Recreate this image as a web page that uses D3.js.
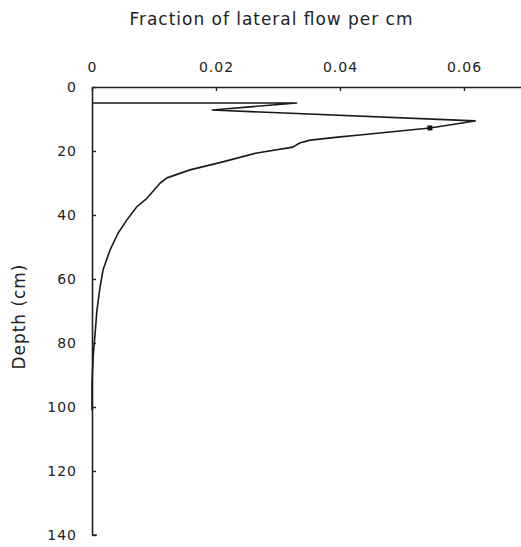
<!DOCTYPE html>
<html>
<head>
<meta charset="utf-8">
<script src="https://cdn.jsdelivr.net/npm/d3@7"></script>
<style>
  body { margin: 0; background: #fff; }
  text { font-family: "DejaVu Sans", sans-serif; fill: #222; }
</style>
</head>
<body>
<script>
// Size of the svg
var w = 521;
var h = 547;

// Lateral flow profile
var depth = [5, 5, 7.2, 10.6, 12.8, 15, 15.6, 16.6, 17.5, 18.8, 20.6, 23.4, 25.9, 28.4, 30, 34.7, 37.5, 41.6, 45.7, 51, 57, 62.5, 69.7, 77, 84, 92.5, 101];
var fraction = [0, 0.033, 0.0194, 0.0618, 0.0545, 0.0432, 0.04, 0.0352, 0.0335, 0.0324, 0.0266, 0.0211, 0.0158, 0.0121, 0.011, 0.0089, 0.0072, 0.0056, 0.0042, 0.0029, 0.0018, 0.0013, 0.0008, 0.0005, 0.0002, 0, 0];

// the small marker on the returning limb
var markDepth = [12.8];
var markFraction = [0.0545];

var xTicks = [0, 0.02, 0.04, 0.06];
var xTickLabels = ["0", "0.02", "0.04", "0.06"];
var yTicks = [0, 20, 40, 60, 80, 100, 120, 140];

var svg = d3.select("body").append("svg").attr("width", w).attr("height", h);

var x = d3.scaleLinear().domain([0, 0.0692]).range([92, 521]);
var y = d3.scaleLinear().domain([0, 140]).range([87, 535]);

// top axis
var xAxis = d3.axisTop(x)
  .tickValues(xTicks)
  .tickFormat(function(d, i){ return xTickLabels[i]; })
  .tickSizeInner(-4)
  .tickSizeOuter(0)
  .tickPadding(15);

var gx = svg.append("g").attr("transform", "translate(0,87)").call(xAxis);

// left axis
var yAxis = d3.axisLeft(y)
  .tickValues(yTicks)
  .tickSizeInner(-4)
  .tickSizeOuter(0)
  .tickPadding(15);

var gy = svg.append("g").attr("transform", "translate(92,0)").call(yAxis);

[gx, gy].forEach(function(g){
  g.selectAll("path.domain").attr("stroke", "#222").attr("stroke-width", 1.6);
  g.selectAll(".tick line").attr("stroke", "#222").attr("stroke-width", 1.4);
  g.selectAll(".tick text")
    .style("font-size", "14px")
    .style("letter-spacing", "1px")
    .attr("fill", "#222")
    .style("font-family", "DejaVu Sans, sans-serif");
});

// small foot at the bottom of the depth axis
svg.append("line")
  .attr("x1", x(0)).attr("x2", x(0) + 5)
  .attr("y1", y(140)).attr("y2", y(140))
  .attr("stroke", "#222").attr("stroke-width", 1.4);

var points = depth.map(function(d, i){ return [fraction[i], d]; });

var line = d3.line()
  .x(function(d){ return x(d[0]); })
  .y(function(d){ return y(d[1]); });

svg.append("path")
  .datum(points)
  .attr("d", line)
  .attr("fill", "none")
  .attr("stroke", "#1a1a1a")
  .attr("stroke-width", 1.6)
  .attr("stroke-linejoin", "round");

svg.selectAll("rect.mark").data(markDepth).enter().append("rect")
  .attr("class", "mark")
  .attr("x", function(d, i){ return x(markFraction[i]) - 2.5; })
  .attr("y", function(d){ return y(d) - 2.5; })
  .attr("width", 5)
  .attr("height", 5)
  .attr("fill", "#111");

// titles
svg.append("text")
  .attr("x", 271).attr("y", 25)
  .attr("text-anchor", "middle")
  .attr("textLength", 283)
  .attr("lengthAdjust", "spacing")
  .style("font-size", "17px")
  .text("Fraction of lateral flow per cm");

svg.append("text")
  .attr("transform", "translate(25,317) rotate(-90)")
  .attr("text-anchor", "middle")
  .attr("textLength", 105)
  .attr("lengthAdjust", "spacing")
  .style("font-size", "17px")
  .text("Depth (cm)");
</script>
</body>
</html>
